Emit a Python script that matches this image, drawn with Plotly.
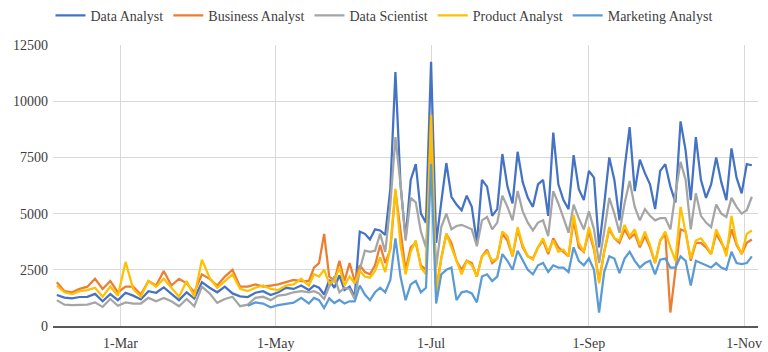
import pandas as pd
import plotly.graph_objects as go

# dates: every 3 days until mid-May, every 2 days after
dates_early = pd.date_range("2022-02-04", "2022-05-14", freq="3D")
dates_late = pd.date_range("2022-05-16", "2022-11-04", freq="2D")
dates = list(dates_early) + list(dates_late)

series_names = ["Data Analyst", "Business Analyst", "Data Scientist", "Product Analyst", "Marketing Analyst"]
colors = ["#4472C4", "#ED7D31", "#A5A5A5", "#FFC000", "#5B9BD5"]

data_analyst_early = [1380, 1260, 1230, 1290, 1300, 1430, 1100, 1420, 1150, 1480,
                      1350, 1180, 1550, 1480, 1720, 1450, 1150, 1500, 1220, 1950,
                      1700, 1500, 1750, 1450, 1320, 1290, 1480, 1550, 1380, 1500,
                      1700, 1650, 1800, 1600]
data_analyst_late = [1800, 1700, 1400, 2050, 1700, 2250, 1600, 1750, 1300, 4200,
                     4100, 3850, 4300, 4250, 4050, 6100, 11300, 6300, 3900, 6500,
                     7200, 5000, 4600, 11750, 3700, 5500, 7250, 5750, 5400, 5150,
                     5800, 5300, 3700, 6500, 6200, 4900, 5200, 7650, 6200, 5450,
                     7750, 6400, 5700, 5300, 6300, 6500, 4900, 8600, 6300, 5600,
                     5200, 7600, 6100, 5600, 6900, 6600, 3500, 5400, 7500, 6500,
                     4700, 7000, 8850, 6000, 7400, 6800, 6300, 5200, 6900, 7200,
                     6200, 5500, 9100, 7800, 5600, 8400, 6500, 5700, 6300, 7500,
                     6400, 5600, 7900, 6600, 5900, 7200, 7150]

business_analyst_early = [1950, 1550, 1500, 1650, 1750, 2100, 1650, 2000, 1500, 1750,
                          1750, 1400, 2000, 1800, 2450, 1800, 2100, 1900, 1500, 2300,
                          2100, 1800, 2200, 2500, 1750, 1750, 1850, 1750, 1800, 1850,
                          1950, 2050, 2000, 2000]
business_analyst_late = [2600, 2800, 4100, 2200, 2000, 2900, 2000, 2800, 2000, 2700,
                         2400, 2300, 2700, 3600, 2800, 3400, 6000, 4200, 2500, 3500,
                         3700, 2700, 2500, 9400, 1600, 3000, 4100, 3700, 2900, 2500,
                         2900, 2800, 2200, 3100, 3400, 2800, 3000, 4100, 3800, 3100,
                         4300, 3500, 3100, 3000, 3500, 3800, 3200, 3900, 3500, 3300,
                         3100, 4700, 3500, 3300, 4200, 3400, 2000, 3300, 4300, 3900,
                         3700, 4300, 3900, 4100, 3500, 4000, 3500, 2800, 3800, 4100,
                         600, 2500, 4300, 4200, 2900, 3700, 3700, 3500, 3200, 4100,
                         3700, 3300, 4300, 3600, 3200, 3700, 3850]

data_scientist_early = [1150, 950, 930, 940, 950, 1050, 850, 1200, 900, 1050,
                        1000, 1000, 1250, 1100, 1250, 1100, 880, 1200, 880, 1750,
                        1450, 1030, 1200, 1300, 880, 950, 1250, 1300, 1150, 1350,
                        1400, 1500, 1550, 1500]
data_scientist_late = [1550, 1450, 1200, 1750, 2200, 1500, 1700, 1650, 1200, 2500,
                       3350, 3300, 3350, 4100, 3300, 5400, 8400, 6300, 3800, 5700,
                       5500, 4200, 3500, 7300, 2600, 4400, 5000, 4300, 4450, 4500,
                       4400, 4300, 3550, 4700, 4850, 4300, 4600, 5800, 5300, 4700,
                       6000, 5100, 4600, 4250, 4600, 4700, 4000, 6000, 5450, 4750,
                       4150, 5400, 4800, 4300, 5100, 4300, 2800, 4200, 5700, 5000,
                       4150, 5450, 6450, 5300, 4700, 5200, 4900, 4700, 4800, 4800,
                       4300, 5900, 7300, 6500, 4300, 5900, 4900, 4600, 4400, 5400,
                       5000, 4850, 5700, 5300, 5000, 5150, 5750]

product_analyst_early = [1800, 1500, 1420, 1550, 1600, 1700, 1300, 1750, 1350, 2850,
                         1650, 1300, 2000, 1750, 2100, 1700, 1300, 2000, 1300, 2950,
                         2150, 1700, 2000, 2300, 1650, 1550, 1700, 1800, 1650, 1600,
                         1800, 1850, 2100, 1800]
product_analyst_late = [2300, 2200, 2500, 1900, 2000, 2600, 1800, 2200, 1900, 2450,
                        2200, 2150, 2450, 3050, 2400, 3500, 6100, 3600, 2300, 3300,
                        3800, 2600, 2300, 9400, 1450, 3000, 4100, 3500, 2900, 2300,
                        2900, 2700, 2200, 3100, 3300, 2900, 3000, 4200, 4000, 3100,
                        4400, 3600, 3100, 2950, 3500, 3900, 3300, 3800, 3300, 3400,
                        3100, 4950, 3700, 3300, 4400, 3500, 1900, 3300, 4400, 3900,
                        3800, 4500, 4000, 4300, 3600, 4200, 3600, 2800, 3800, 4200,
                        3500, 2900, 5300, 4200, 3000, 3800, 3900, 3600, 3200, 4300,
                        3800, 3100, 4900, 3700, 3200, 4100, 4250]

marketing_analyst_early = [None, None, None, None, None, None, None, None, None, None,
                           None, None, None, None, None, None, None, None, None, None,
                           None, None, None, None, None, 900, 1050, 1000, 830, 930,
                           1000, 1040, 1250, 1000]
marketing_analyst_late = [1250, 1150, 800, 1230, 1020, 1160, 1000, 1100, 1100, 1800,
                          1400, 1150, 1500, 1700, 1500, 2050, 3900, 2200, 1150, 1850,
                          2000, 1500, 1700, 7200, 1000, 2300, 2500, 2600, 1150, 1500,
                          1550, 1450, 1050, 2200, 2300, 2000, 2200, 3200, 2900, 2500,
                          3350, 2900, 2500, 2300, 2700, 2800, 2400, 2700, 2600, 2600,
                          2400, 3500, 2900, 2700, 3000, 2500, 600, 2400, 3100, 3000,
                          2350, 3000, 3300, 2900, 2600, 2800, 2900, 2300, 2950, 3000,
                          2600, 2600, 3100, 2900, 1800, 2900, 2800, 2700, 2600, 2800,
                          2600, 2500, 3300, 2800, 2750, 2800, 3100]

y_tick_vals = [0, 2500, 5000, 7500, 10000, 12500]
y_tick_text = ["0", "2500", "5000", "7500", "10000", "12500"]
x_tick_vals = ["2022-03-01", "2022-05-01", "2022-07-01", "2022-09-01", "2022-11-01"]
x_tick_text = ["1-Mar", "1-May", "1-Jul", "1-Sep", "1-Nov"]

values = [
    data_analyst_early + data_analyst_late,
    business_analyst_early + business_analyst_late,
    data_scientist_early + data_scientist_late,
    product_analyst_early + product_analyst_late,
    marketing_analyst_early + marketing_analyst_late,
]
for v in values:
    assert len(v) == len(dates), (len(v), len(dates))

fig = go.Figure()
for name, col, v in zip(series_names, colors, values):
    fig.add_trace(go.Scatter(x=dates, y=v, mode="lines", name=name,
                             line=dict(color=col, width=2.25)))

font_family = "Liberation Serif, Times New Roman, serif"
text_color = "#404040"
fig.update_layout(
    width=768, height=352,
    margin=dict(l=53, r=10, t=45, b=26),
    paper_bgcolor="white", plot_bgcolor="white",
    font=dict(family=font_family, size=14, color=text_color),
    showlegend=True,
    legend=dict(orientation="h", xref="container", x=0.5, xanchor="center",
                yref="container", y=0.955, yanchor="middle",
                font=dict(family=font_family, size=14, color=text_color),
                itemwidth=30, bgcolor="rgba(0,0,0,0)"),
)
fig.update_xaxes(
    range=["2022-02-02 12:00", "2022-11-06 10:00"],
    tickvals=x_tick_vals, ticktext=x_tick_text,
    showgrid=True, gridcolor="#d9d9d9", gridwidth=1,
    showline=True, linecolor="#595959", linewidth=1.5,
    ticks="", tickfont=dict(family=font_family, size=14, color=text_color),
    ticklabelstandoff=3, automargin=False,
    zeroline=False,
)
fig.update_yaxes(
    range=[0, 12500], tickvals=y_tick_vals, ticktext=y_tick_text,
    showgrid=True, gridcolor="#d9d9d9", gridwidth=1,
    showline=False, zeroline=False, ticks="",
    tickfont=dict(family=font_family, size=14, color=text_color),
    ticklabelstandoff=4, automargin=False,
)

fig.write_html("out.html")
